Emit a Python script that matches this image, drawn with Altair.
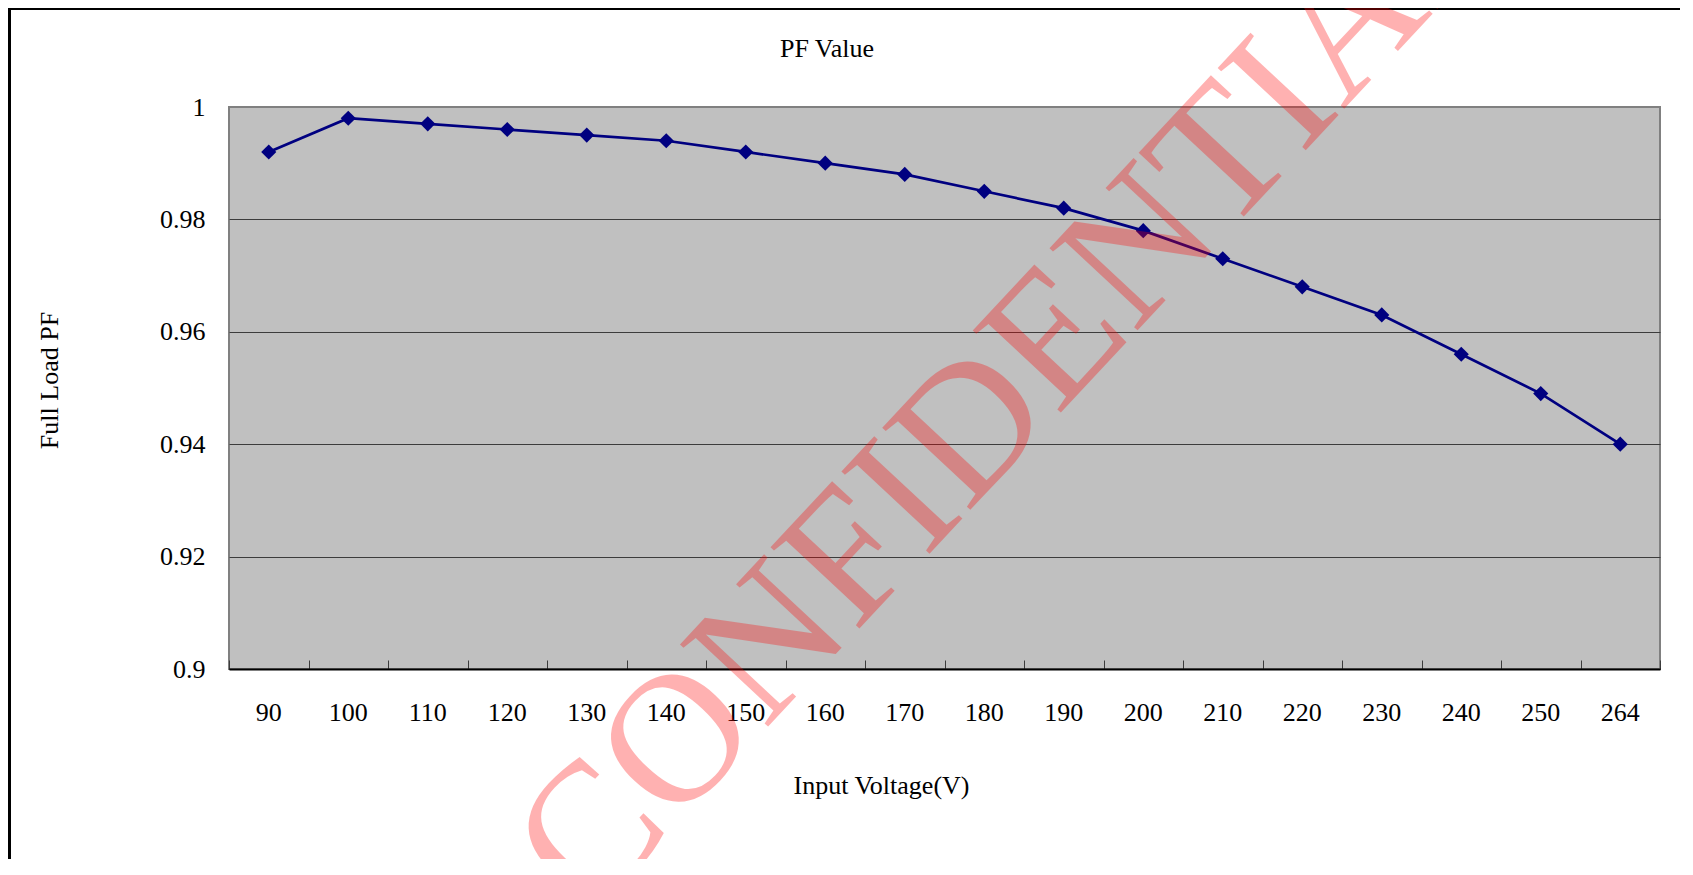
import altair as alt
import pandas as pd

# ---- data ----
voltage = ["90", "100", "110", "120", "130", "140", "150", "160", "170",
           "180", "190", "200", "210", "220", "230", "240", "250", "264"]
pf_value = [0.992, 0.998, 0.997, 0.996, 0.995, 0.994, 0.992, 0.990, 0.988,
            0.985, 0.982, 0.978, 0.973, 0.968, 0.963, 0.956, 0.949, 0.940]
y_ticks = [0.9, 0.92, 0.94, 0.96, 0.98, 1.0]
chart_title = ["PF Value"]
x_title = "Input Voltage(V)"
y_title = "Full Load PF"
watermark_text = ["D CONFIDENTIAL"]

FONT = "Liberation Serif"
W, H = 1431, 562
NAVY = "#000080"

df = pd.DataFrame({"v": voltage, "pf": pf_value})
base = alt.Chart(df)

xscale = alt.Scale(type="band", paddingInner=0, paddingOuter=0)
yscale = alt.Scale(domain=[0.9, 1.0], nice=False, zero=False)

y_enc = alt.Y(
    "pf:Q", scale=yscale,
    axis=alt.Axis(
        values=y_ticks, format="~g", title=y_title,
        domain=False, ticks=False, labelPadding=24,
        labelFont=FONT, labelFontSize=26, labelColor="black",
        grid=True,
        gridColor=alt.condition("datum.value >= 0.999", alt.value("#808080"), alt.value("#3c3c3c")),
        gridWidth=1,
        titleFont=FONT, titleFontSize=26, titleFontWeight="normal", titleColor="black",
        titleX=-180, titleY=273, titleAlign="center", titleBaseline="middle", titleAngle=270,
    ),
)

x_bottom = alt.X(
    "v:N", sort=voltage, scale=xscale, bandPosition=0.5,
    axis=alt.Axis(
        orient="bottom", title=x_title, ticks=False, grid=False,
        domainColor="black", domainWidth=2,
        labelFont=FONT, labelFontSize=26, labelColor="black", labelAngle=0,
        labelBaseline="middle", labelPadding=43,
        titleFont=FONT, titleFontSize=26, titleFontWeight="normal", titleColor="black",
        titleX=652, titleY=116, titleAlign="center", titleBaseline="middle",
    ),
)

x_plain = alt.X("v:N", sort=voltage, scale=xscale, bandPosition=0.5, axis=None)

x_ticks = alt.X(
    "v:N", sort=voltage, scale=xscale, bandPosition=0.5,
    axis=alt.Axis(
        orient="top", offset=-H, labels=False, domain=False, grid=False,
        ticks=True, tickSize=9, tickColor="#3c3c3c", tickWidth=1,
        tickBand="extent", title=None,
    ),
)

frame = alt.Chart(pd.DataFrame({"k": [0]})).mark_rect(
    fillOpacity=0, stroke="black", strokeWidth=3
).encode(
    x=alt.value(-219.5), x2=alt.value(W + 200),
    y=alt.value(-98.5), y2=alt.value(H + 400),
)

title_mark = alt.Chart(pd.DataFrame({"t": chart_title})).mark_text(
    font=FONT, fontSize=26, color="black", align="center", baseline="middle",
).encode(x=alt.value(598), y=alt.value(-58), text="t:N")

line = base.mark_line(color=NAVY, strokeWidth=2.7).encode(x=x_bottom, y=y_enc)
pts = base.mark_point(shape="diamond", filled=True, size=230, color=NAVY, opacity=1).encode(
    x=x_plain, y=y_enc
)
tick_layer = base.mark_point(opacity=0).encode(x=x_ticks, y=y_enc)

wm = alt.Chart(pd.DataFrame({"t": watermark_text})).mark_text(
    font=FONT, fontSize=184, color="#ff0000", opacity=0.3,
    angle=313, align="center", baseline="middle",
).encode(
    x=alt.value(720), y=alt.value(345), text="t:N"
)

chart = alt.layer(frame, tick_layer, line, pts, title_mark, wm).resolve_axis(
    x="independent"
).properties(
    width=W, height=H,
    background="white",
    autosize=alt.AutoSizeParams(type="none"),
    padding={"left": 221, "top": 99, "right": 20, "bottom": 190},
).configure_view(
    fill="#C0C0C0", stroke="#808080", strokeWidth=2
)

chart.save("out.html", embed_options={"renderer": "svg", "actions": False})
